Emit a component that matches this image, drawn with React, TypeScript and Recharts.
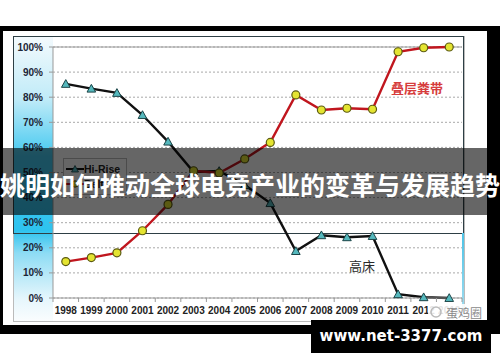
import React from 'react';
import { LineChart, Line, XAxis, YAxis, CartesianGrid, ReferenceLine } from 'recharts';

const years = ['1998', '1999', '2000', '2001', '2002', '2003', '2004', '2005', '2006', '2007', '2008', '2009', '2010', '2011', '2012', '2013'];
const hiRise = [85.3, 83.4, 81.7, 72.9, 62.3, 50.2, 50.6, 45, 37.8, 18.7, 25, 24.2, 24.7, 1.5, 0.3, 0];
const manureBelt = [14.5, 16.1, 18, 26.8, 37.3, 50.7, 49.8, 55.4, 62, 80.9, 74.9, 75.6, 75.2, 98.1, 99.7, 100];
const yTicks = [0, 10, 20, 30, 40, 50, 60, 70, 80, 90, 100];

const legendItems = [
  { key: 'hiRise', label: 'Hi-Rise', color: '#111111', marker: 'triangle' },
  { key: 'belt', label: 'Belt', color: '#c0161e', marker: 'circle' },
];

const data = years.map((year, i) => ({ year, hiRise: hiRise[i], belt: manureBelt[i] }));

const PLOT_LEFT = 53;
const PLOT_RIGHT = 462;
const sans = '"Liberation Sans", Arial, sans-serif';
const cjk = '"Noto Sans CJK SC", sans-serif';

function TriangleDot(props: any) {
  const { cx, cy } = props;
  if (cx == null || cy == null) return null;
  const s = 4.3;
  return (
    <polygon
      points={`${cx},${cy - s} ${cx + s},${cy + s * 0.8} ${cx - s},${cy + s * 0.8}`}
      fill="#55b8bd"
      stroke="#1b4447"
      strokeWidth={1}
    />
  );
}

function CircleDot(props: any) {
  const { cx, cy } = props;
  if (cx == null || cy == null) return null;
  return <circle cx={cx} cy={cy} r={4} fill="#e4e431" stroke="#5b5a12" strokeWidth={1.2} />;
}

// year labels sit in the band centre, tick marks on the band edges
function YearTick(props: any) {
  const { x, y, payload, index } = props;
  const half = payload?.offset || (PLOT_RIGHT - PLOT_LEFT) / years.length / 2;
  const axisY = y - 9;
  return (
    <g>
      <line x1={x - half} x2={x - half} y1={axisY} y2={axisY + 4} stroke="#999" />
      {index === years.length - 1 && <line x1={x + half} x2={x + half} y1={axisY} y2={axisY + 4} stroke="#999" />}
      <text x={x} y={y} dy="0.71em" textAnchor="middle" fill="#222" fontSize={10} fontWeight={700} fontFamily={sans}>
        {payload.value}
      </text>
    </g>
  );
}

export default function App() {
  return (
    <div style={{ position: 'fixed', left: 0, top: 0, width: 500, height: 362, overflow: 'hidden', background: '#fff' }}>
      {/* slide frame */}
      <div style={{ position: 'absolute', left: 0, top: 26, width: 500, height: 308, background: '#000' }} />
      <div style={{ position: 'absolute', left: 3, top: 31, width: 484, height: 294, background: '#fff' }} />
      <div
        style={{
          position: 'absolute', left: 13, top: 36, width: 40, height: 286,
          background: 'linear-gradient(to bottom, #f4fafd 0%, #c0ebf8 22%, #45c9f0 42%, #2ec3ef 68%, #8edcf4 76%, #e6f6fc 92%, #fbfdfe 100%)',
        }}
      />
      <div style={{ position: 'absolute', left: 13, top: 36, width: 452, height: 286, border: '1px solid #bbb', boxSizing: 'border-box' }} />
      <div style={{ position: 'absolute', left: 13, top: 36, width: 451, height: 198, border: '1px solid #2e3f45', boxSizing: 'border-box' }} />
      <div style={{ position: 'absolute', left: 462, top: 233, width: 2, height: 85, background: 'linear-gradient(to bottom, #4cc3e6, #a8def0)' }} />

      <div style={{ position: 'absolute', left: 0, top: 0 }}>
        <LineChart width={500} height={362} data={data} margin={{ top: 47, right: 38, bottom: 44, left: 8 }}>
          <CartesianGrid vertical={false} strokeDasharray="2 2" stroke="#a8a8a8" />
          <XAxis
            dataKey="year"
            scale="band"
            height={20}
            axisLine={{ stroke: '#999' }}
            tickLine={false}
            tickSize={4}
            tickMargin={5}
            interval={0}
            tick={<YearTick />}
          />
          <YAxis
            width={45}
            domain={[0, 100]}
            ticks={yTicks}
            tickFormatter={(v: number) => `${v}%`}
            axisLine={{ stroke: '#999' }}
            tickLine={{ stroke: '#999' }}
            tickSize={4}
            tickMargin={6}
            tick={{ fill: '#1c2536', fontSize: 10, fontWeight: 700, fontFamily: sans }}
          />
          <YAxis yAxisId="frame" orientation="right" width={0} tick={false} tickLine={false} axisLine={{ stroke: '#999' }} />
          <ReferenceLine y={100} stroke="#999" />
          <Line
            dataKey="hiRise"
            stroke="#111"
            strokeWidth={2.4}
            dot={(p: any) => <TriangleDot key={`t-${p.index}`} {...p} />}
            isAnimationActive={false}
          />
          <Line
            dataKey="belt"
            stroke="#c0161e"
            strokeWidth={2.4}
            dot={(p: any) => <CircleDot key={`c-${p.index}`} {...p} />}
            isAnimationActive={false}
          />
        </LineChart>
      </div>

      {/* series legend */}
      <div
        style={{
          position: 'absolute', left: 63, top: 158, width: 64, padding: '2px 0 3px 2px',
          border: '1px solid #bbb', background: '#fff', boxSizing: 'border-box',
        }}
      >
        {legendItems.map((item) => (
          <div key={item.key} style={{ display: 'flex', alignItems: 'center', height: 15 }}>
            <svg width={18} height={10}>
              <line x1={0} x2={18} y1={5} y2={5} stroke={item.color} strokeWidth={2} />
              {item.marker === 'triangle' ? (
                <polygon points="9,1.5 12.5,8 5.5,8" fill="#55b8bd" stroke="#1b4447" strokeWidth={0.8} />
              ) : (
                <circle cx={9} cy={5} r={3.2} fill="#e4e431" stroke="#5b5a12" />
              )}
            </svg>
            <span style={{ fontFamily: sans, fontWeight: 700, fontSize: 10.5, color: '#222' }}>{item.label}</span>
          </div>
        ))}
      </div>

      {/* series names */}
      <div style={{ position: 'absolute', left: 391, top: 80, fontFamily: cjk, fontSize: 13, lineHeight: '16px', fontWeight: 600, color: '#d63c3c' }}>
        叠层粪带
      </div>
      <div style={{ position: 'absolute', left: 349, top: 258, fontFamily: cjk, fontSize: 13, lineHeight: '16px', color: '#2a2a2a' }}>
        高床
      </div>

      {/* source mark */}
      <div
        style={{
          position: 'absolute', left: 428, top: 304, width: 58, height: 16, display: 'flex', alignItems: 'center',
          background: 'rgba(255,255,255,0.88)', fontFamily: cjk, fontSize: 12, color: '#8a8a8a',
        }}
      >
        <svg width={18} height={14}>
          <circle cx={8} cy={7} r={5} fill="none" stroke="#bbb" strokeWidth={1.5} />
        </svg>
        <span>蛋鸡圈</span>
      </div>

      {/* title banner */}
      <div
        style={{
          position: 'absolute', left: 0, top: 148, width: 500, height: 67, background: 'rgba(0,0,0,0.6)',
          color: '#fff', fontFamily: cjk, fontWeight: 700, fontSize: 25, lineHeight: '67px', paddingTop: 3,
          boxSizing: 'border-box', textAlign: 'center', whiteSpace: 'nowrap', overflow: 'hidden',
        }}
      >
        姚明如何推动全球电竞产业的变革与发展趋势
      </div>

      {/* site mark */}
      <div
        style={{
          position: 'absolute', left: 311, top: 320, width: 180, height: 33, background: '#000', color: '#fff',
          fontFamily: '"DejaVu Sans", Verdana, sans-serif', fontWeight: 700, fontSize: 15, lineHeight: '33px', textAlign: 'center',
        }}
      >
        www.net-3377.com
      </div>
    </div>
  );
}
